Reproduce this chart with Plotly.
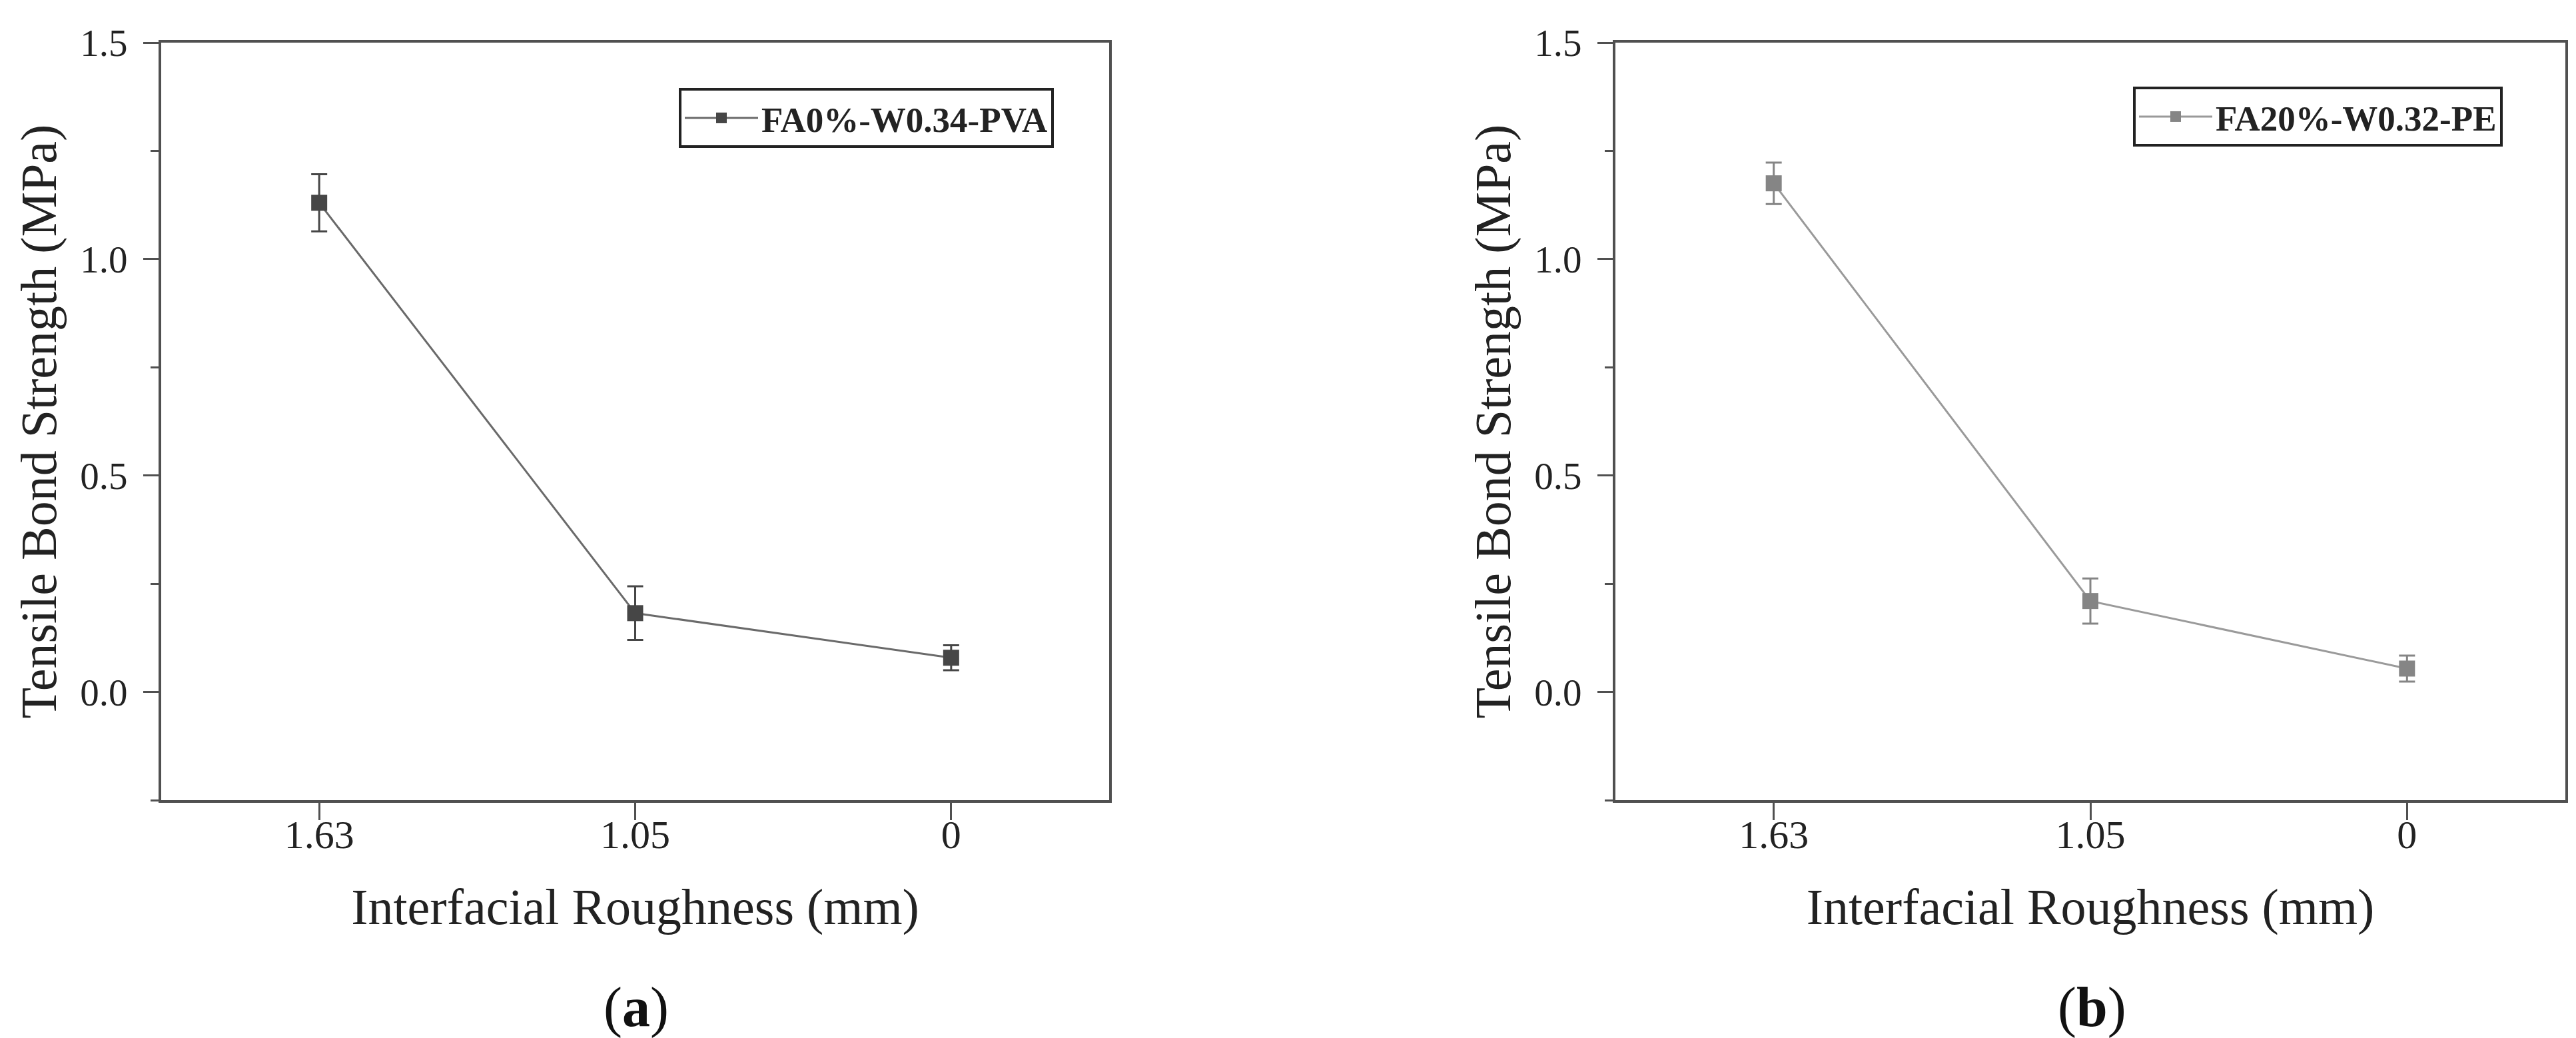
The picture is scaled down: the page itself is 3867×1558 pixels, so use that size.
import plotly.graph_objects as go

# roughness categories (x) and tensile bond strength (MPa)
roughness = ["1.63", "1.05", "0"]

pva_name = "FA0%-W0.34-PVA"
pva_strength = [1.13, 0.182, 0.079]
pva_err = [0.066, 0.062, 0.029]

pe_name = "FA20%-W0.32-PE"
pe_strength = [1.175, 0.21, 0.054]
pe_err = [0.048, 0.052, 0.030]

font = "Liberation Serif"
W, H = 3867, 1558

fig = go.Figure()

fig.add_trace(go.Scatter(
    x=roughness, y=pva_strength, name=pva_name,
    mode="lines+markers", showlegend=True,
    line=dict(color="#6a6a6a", width=3),
    marker=dict(symbol="square", size=24, color="#464646"),
    error_y=dict(type="data", array=pva_err, color="#464646", thickness=3, width=12),
    xaxis="x", yaxis="y", legend="legend",
))

fig.add_trace(go.Scatter(
    x=roughness, y=pe_strength, name=pe_name,
    mode="lines+markers", showlegend=True,
    line=dict(color="#9a9a9a", width=3),
    marker=dict(symbol="square", size=24, color="#858585"),
    error_y=dict(type="data", array=pe_err, color="#858585", thickness=3, width=12),
    xaxis="x2", yaxis="y2", legend="legend2",
))

xax = dict(
    type="category", range=[-0.5, 2.5], automargin=False,
    showline=True, linecolor="#505050", linewidth=4, mirror=True,
    ticks="outside", ticklen=26, tickwidth=3, tickcolor="#505050",
    tickfont=dict(family=font, size=60, color="#222"), ticklabelstandoff=-30,
    showgrid=False, zeroline=False,
    title=dict(text="Interfacial Roughness (mm)", font=dict(family=font, size=76, color="#222"), standoff=50),
)
yax = dict(
    range=[-0.25, 1.5], dtick=0.5, tick0=0, tickformat=".1f", automargin=False,
    showline=True, linecolor="#505050", linewidth=4, mirror=True,
    ticks="outside", ticklen=23, tickwidth=3, tickcolor="#505050",
    minor=dict(dtick=0.25, ticks="outside", ticklen=12, tickwidth=3, tickcolor="#505050"),
    tickfont=dict(family=font, size=57, color="#222"), ticklabelstandoff=12,
    showgrid=False, zeroline=False,
    title=dict(text="Tensile Bond Strength (MPa)", font=dict(family=font, size=76, color="#222"), standoff=12),
)

ydom = [1 - 1193 / H, 1 - 56 / H]

leg = dict(
    bgcolor="white", bordercolor="#222", borderwidth=4,
    font=dict(family=font, size=53, color="#222", weight="bold"),
    xanchor="left", yanchor="top", itemwidth=110,
)

fig.update_layout(
    width=W, height=H, showlegend=True,
    margin=dict(l=0, r=0, t=0, b=0),
    paper_bgcolor="white", plot_bgcolor="white",
    xaxis=dict(xax, domain=[234 / W, 1657 / W], anchor="y"),
    yaxis=dict(yax, domain=ydom, anchor="x"),
    xaxis2=dict(xax, domain=[2417 / W, 3843 / W], anchor="y2"),
    yaxis2=dict(yax, domain=ydom, anchor="x2"),
    legend=dict(leg, x=1011 / W, y=1 - 124 / H),
    legend2=dict(leg, x=3194 / W, y=1 - 122 / H),
    annotations=[
        dict(text="(<b>a</b>)", x=947 / W, y=1 - 1504 / H, xref="paper", yref="paper",
             xanchor="center", yanchor="middle",
             showarrow=False, font=dict(family=font, size=84, color="#111")),
        dict(text="(<b>b</b>)", x=3132 / W, y=1 - 1504 / H, xref="paper", yref="paper",
             xanchor="center", yanchor="middle",
             showarrow=False, font=dict(family=font, size=84, color="#111")),
    ],
)

fig.write_html("out.html")
